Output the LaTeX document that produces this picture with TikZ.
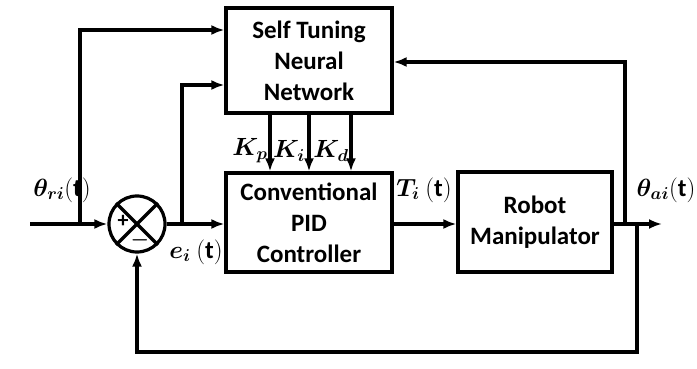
\documentclass[tikz,border=0pt]{standalone}
\usepackage{fontspec}
\usepackage{amsmath}
\usepackage{bm}
\setmainfont{Carlito}
\usetikzlibrary{arrows.meta,calc}
\begin{document}
\begin{tikzpicture}[x=1pt,y=-1pt,
  line width=3.2pt,
  blk/.style={draw,rectangle,inner sep=0pt,align=center,font=\fontsize{25}{31}\selectfont\bfseries},
  arr/.style={-{Latex[length=13pt,width=10pt]}},
  lbl/.style={font=\fontsize{25}{26}\selectfont,inner sep=0pt}]
\useasboundingbox (0,0) rectangle (697,369);
\node[blk,minimum width=166pt,minimum height=105pt] (nn) at (309,60.5) {Self Tuning\\Neural\\Network};
\node[blk,minimum width=166pt,minimum height=99pt] (pid) at (309,222.5) {Conventional\\PID\\Controller};
\node[blk,minimum width=154pt,minimum height=100pt] (rob) at (535,222) {Robot\\Manipulator};
\node[draw,circle,minimum size=56pt,inner sep=0pt] (sum) at (137,224) {};
\draw (sum.north west) -- (sum.south east);
\draw (sum.north east) -- (sum.south west);
\node[font=\fontsize{22}{22}\selectfont\bfseries,inner sep=0pt] (plus) at (123,221) {+};
\node[font=\fontsize{20}{20}\selectfont,inner sep=0pt] (minus) at (140,240) {$\boldsymbol{-}$};
% input
\coordinate (in) at (30,224);
\coordinate (b1) at (80,224);
\coordinate (b1t) at (80,30);
\draw[arr] (in) -- (sum.west);
\draw[arr] (b1) -- (b1t) -- (nn.west |- b1t);
% error
\coordinate (b2) at (182,224);
\coordinate (b2t) at (182,85);
\draw[arr] (sum.east) -- (pid.west |- sum.east);
\draw[arr] (b2) -- (b2t) -- (nn.west |- b2t);
% gains
\draw[arr] ([xshift=-39pt]nn.south) -- ([xshift=-39pt]pid.north);
\draw[arr] (nn.south) -- (pid.north);
\draw[arr] ([xshift=42pt]nn.south) -- ([xshift=42pt]pid.north);
\node[lbl] (kp) at (250,151) {$\bm{K_p}$};
\node[lbl] (ki) at (289,151) {$\bm{K_i}$};
\node[lbl] (kd) at (331,151) {$\bm{K_d}$};
% pid to robot
\draw[arr] (pid.east |- 0,224) -- (rob.west |- 0,224);
% output
\coordinate (out) at (662,224);
\draw[arr] (rob.east |- 0,224) -- (out);
\coordinate (b3) at (625,224);
\coordinate (b3t) at (625,62);
\draw[arr] (b3) -- (b3t) -- (nn.east |- b3t);
\coordinate (b4) at (637,224);
\coordinate (b4b) at (637,352);
\draw[arr] (b4) -- (b4b) -- (sum.south |- b4b) -- (sum.south);
% labels
\node[lbl] (thr) at (62,190) {$\bm{\theta_{ri}}\mathbf{(t)}$};
\node[lbl] (ei) at (196,252) {$\bm{e_i}\ \mathbf{(t)}$};
\node[lbl] (ti) at (424,190) {$\bm{T_i}\ \mathbf{(t)}$};
\node[lbl] (tha) at (666,190) {$\bm{\theta_{ai}}\mathbf{(t)}$};
\end{tikzpicture}
\end{document}
